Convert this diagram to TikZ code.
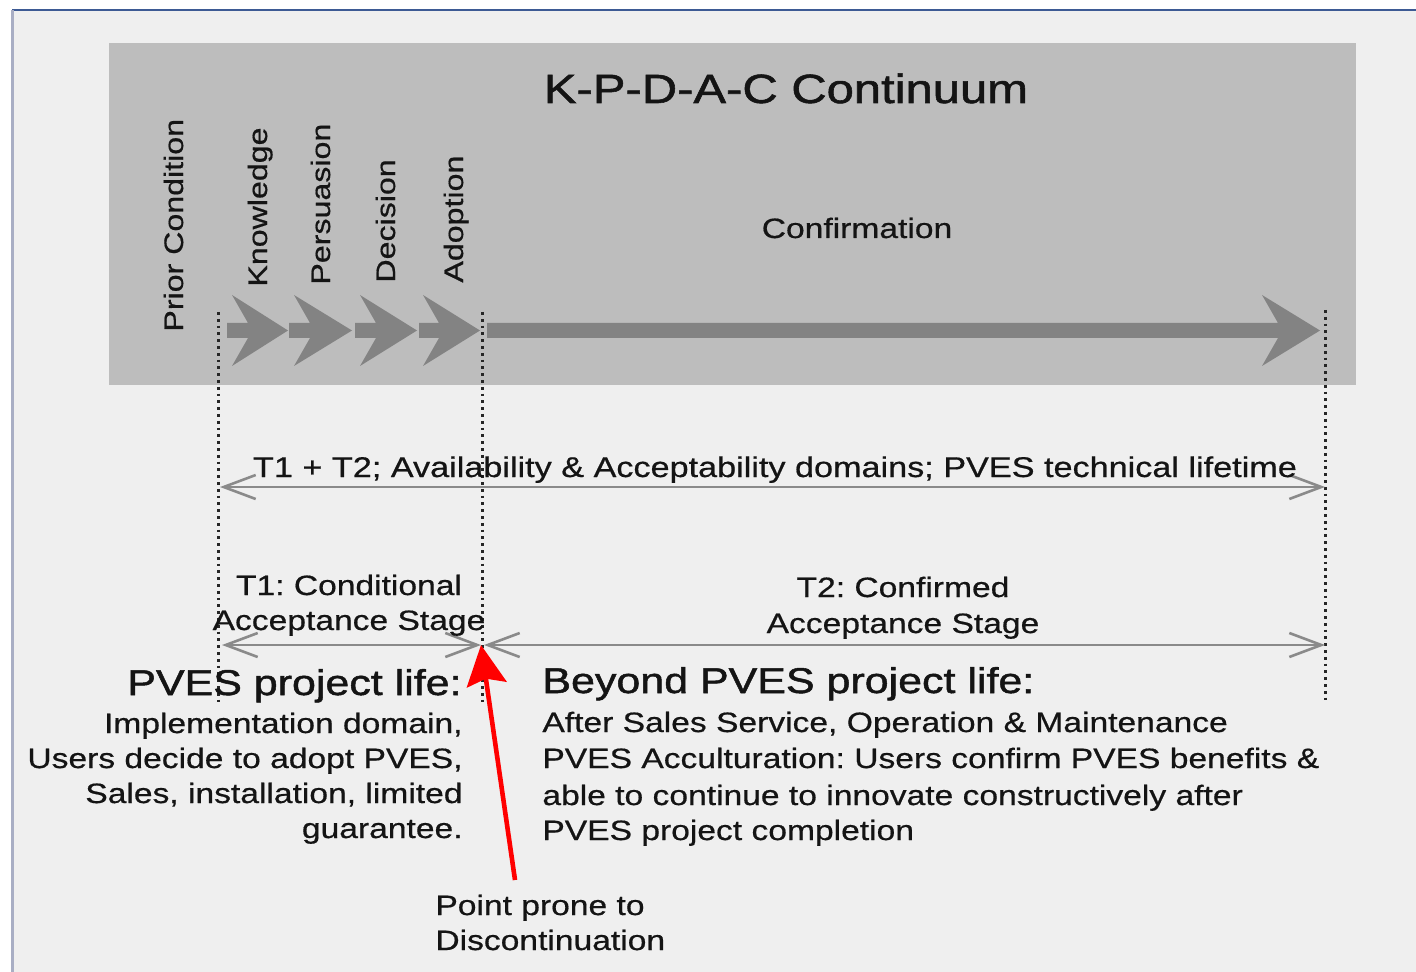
\documentclass[tikz,border=0pt]{standalone}
\usepackage{fontspec}
\setmainfont{Liberation Sans}[FakeStretch=1.2,FakeBold=0.6]
\newfontfamily\headfont{Liberation Sans}[FakeStretch=1.2,FakeBold=1.4]
\usetikzlibrary{arrows.meta}
\frenchspacing
\definecolor{pagebg}{HTML}{EFEFEF}
\definecolor{panel}{HTML}{BDBDBD}
\definecolor{chev}{HTML}{838383}
\definecolor{spangray}{HTML}{8A8A8A}
\definecolor{frametop}{HTML}{3D5A94}
\definecolor{frameleft}{HTML}{A9AEC4}
\definecolor{alarm}{HTML}{FF0000}
\begin{document}
\begin{tikzpicture}[x=0.5pt,y=-0.5pt,
  txt/.style={inner sep=0pt, text=black!92},
  body/.style={txt, font=\fontsize{14}{17}\selectfont},
  headline/.style={txt, font=\headfont\fontsize{17.9}{20}\selectfont},
  stagelabel/.style={txt, font=\fontsize{13.4}{16}\selectfont, rotate=90, anchor=base west},
  guide/.style={line width=1.5pt, dash pattern=on 1.4pt off 2pt, black!85},
  span/.style={spangray, line width=1.3pt,
    {Straight Barb[length=16pt,width=12pt]}-{Straight Barb[length=16pt,width=12pt]}},
  warn/.style={alarm, line width=2.3pt, -{Stealth[length=20pt,width=20pt,inset=3pt]}},
]
% page and frame
\useasboundingbox (0,0) rectangle (1416,972);
\fill[white] (0,0) rectangle (1416,972);
\fill[pagebg] (12,10) rectangle (1416,972);
\draw[frametop, line width=1pt] (12,10) -- (1416,10);
\draw[frameleft, line width=1.5pt] (12,10) -- (12,972);

% continuum panel
\fill[panel] (109,43) rectangle (1356,385);
\node[txt, font=\headfont\fontsize{20.4}{23}\selectfont, anchor=base] (title) at (786,103) {K-P-D-A-C Continuum};
\node[body, anchor=base] (conf) at (857,238) {Confirmation};

% stage names
\node[stagelabel] (prior) at (183,332) {Prior Condition};
\node[stagelabel] (know) at (267,287) {Knowledge};
\node[stagelabel] (pers) at (330,285) {Persuasion};
\node[stagelabel] (deci) at (395,283) {Decision};
\node[stagelabel] (adop) at (463,283) {Adoption};

% chevron arrows: shaft start / head back corner / tip
\foreach \a/\b/\c in {227/232/288, 289/294/352, 355/360/417, 419/423/480, 487/1262/1320}
  \fill[chev] (\a,323) -- (\b+16,323) -- (\b,295) -- (\c,330.5) -- (\b,366) -- (\b+16,338) -- (\a,338) -- cycle;

% dotted guide lines
\coordinate (gAtop) at (218,312);
\coordinate (gAbot) at (218,702);
\coordinate (gBtop) at (482,312);
\coordinate (gBbot) at (482,702);
\coordinate (gCtop) at (1325,310);
\coordinate (gCbot) at (1325,700);
\draw[guide] (gAtop) -- (gAbot);
\draw[guide] (gBtop) -- (gBbot);
\draw[guide] (gCtop) -- (gCbot);

% spans
\coordinate (lifeL) at (220,487);
\coordinate (lifeR) at (1325,487);
\coordinate (tOneL) at (222,645);
\coordinate (tOneR) at (481,645);
\coordinate (tTwoL) at (484,645);
\coordinate (tTwoR) at (1325,645);
\draw[span] (lifeL) -- (lifeR);
\draw[span] (tOneL) -- (tOneR);
\draw[span] (tTwoL) -- (tTwoR);

\node[body, font=\fontsize{14.25}{17}\selectfont, anchor=base] (lifelbl) at (775,477) {T1 + T2; Availability \& Acceptability domains; PVES technical lifetime};
\node[body, anchor=base] (tOneA) at (349,595) {T1: Conditional};
\node[body, anchor=base] (tOneB) at (349,630) {Acceptance Stage};
\node[body, anchor=base] (tTwoA) at (903,597) {T2: Confirmed};
\node[body, anchor=base] (tTwoB) at (903,633) {Acceptance Stage};

% project life, left
\node[headline, anchor=base east] (plh) at (462,695) {PVES project life:};
\node[body, anchor=base east] (pl1) at (463,733) {Implementation domain,};
\node[body, anchor=base east] (pl2) at (463,768) {Users decide to adopt PVES,};
\node[body, anchor=base east] (pl3) at (463,803) {Sales, installation, limited};
\node[body, anchor=base east] (pl4) at (463,838) {guarantee.};

% beyond project life, right
\node[headline, anchor=base west] (bph) at (542,693) {Beyond PVES project life:};
\node[body, anchor=base west] (bp1) at (542,732) {After Sales Service, Operation \& Maintenance};
\node[body, anchor=base west] (bp2) at (542,768) {PVES Acculturation: Users confirm PVES benefits \&};
\node[body, anchor=base west] (bp3) at (542,805) {able to continue to innovate constructively after};
\node[body, anchor=base west] (bp4) at (542,840) {PVES project completion};

% discontinuation point
\node[body, anchor=base west] (pp1) at (435,915) {Point prone to};
\node[body, anchor=base west] (pp2) at (435,950) {Discontinuation};
\coordinate (warnfoot) at (515,880);
\draw[warn] (warnfoot) -- (tOneR);
\end{tikzpicture}
\end{document}
